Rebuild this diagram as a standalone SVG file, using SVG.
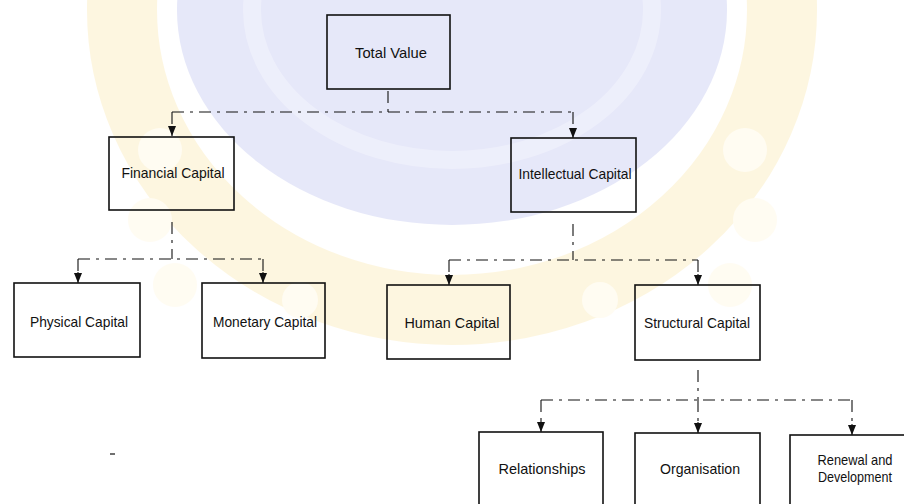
<svg xmlns="http://www.w3.org/2000/svg" width="904" height="504" viewBox="0 0 904 504">
<style>
.box{fill:none;stroke:#111;stroke-width:1.6}
.lbl{font-family:"Liberation Sans",Arial,sans-serif;font-size:15px;fill:#111;text-anchor:middle}
.con{fill:none;stroke:#111;stroke-width:1.1;stroke-dasharray:12 6 3 6}
.arr{fill:none;stroke:#111;stroke-width:1.1}
</style>
<defs>
<marker id="ah" markerUnits="userSpaceOnUse" markerWidth="10" markerHeight="8" refX="10" refY="4" orient="auto" viewBox="0 0 10 8">
<path d="M0,0 L10,4 L0,8 Z" fill="#111"/>
</marker>
</defs>
<rect width="904" height="504" fill="#fff"/>
<g id="watermark" opacity="0.3">
<ellipse cx="452" cy="10" rx="330" ry="300" fill="none" stroke="#fbe39a" stroke-width="70"/>
<ellipse cx="452" cy="10" rx="275" ry="215" fill="#aeb4ec"/>
<ellipse cx="452" cy="10" rx="200" ry="150" fill="none" stroke="#c7cbf3" stroke-width="18"/>
<g fill="#fff6d6">
<circle cx="160" cy="150" r="22"/><circle cx="150" cy="220" r="22"/><circle cx="175" cy="285" r="22"/>
<circle cx="745" cy="150" r="22"/><circle cx="755" cy="220" r="22"/><circle cx="730" cy="285" r="22"/>
<circle cx="300" cy="300" r="18"/><circle cx="600" cy="300" r="18"/>
</g>
</g>
<g id="connectors">
<path class="con" d="M388,91 V112 M172,112 H573"/>
<path class="con" d="M172,112 V127 M573,112 V129"/>
<line class="arr" x1="172" y1="126" x2="172" y2="136" marker-end="url(#ah)"/>
<line class="arr" x1="573" y1="128" x2="573" y2="138" marker-end="url(#ah)"/>
<path class="con" d="M172,222 V259 M78,259 H263 M78,259 V272 M263,259 V272"/>
<line class="arr" x1="78" y1="272" x2="78" y2="283" marker-end="url(#ah)"/>
<line class="arr" x1="263" y1="272" x2="263" y2="283" marker-end="url(#ah)"/>
<path class="con" d="M573,224 V260 M449,260 H698 M449,260 V274 M698,260 V274"/>
<line class="arr" x1="449" y1="274" x2="449" y2="285" marker-end="url(#ah)"/>
<line class="arr" x1="698" y1="274" x2="698" y2="285" marker-end="url(#ah)"/>
<path class="con" d="M698,370 V400 M541,400 H852 M541,400 V421 M698,400 V422 M852,400 V424"/>
<line class="arr" x1="541" y1="421" x2="541" y2="432" marker-end="url(#ah)"/>
<line class="arr" x1="698" y1="422" x2="698" y2="433" marker-end="url(#ah)"/>
<line class="arr" x1="852" y1="424" x2="852" y2="435" marker-end="url(#ah)"/>
</g>
<g id="total-value"><rect class="box" x="327" y="15" width="123" height="74"/><text class="lbl" x="391" y="58" textLength="72" lengthAdjust="spacingAndGlyphs">Total Value</text></g>
<g id="financial-capital"><rect class="box" x="109" y="137" width="125" height="73"/><text class="lbl" x="173" y="178" textLength="103" lengthAdjust="spacingAndGlyphs">Financial Capital</text></g>
<g id="intellectual-capital"><rect class="box" x="511" y="138" width="125" height="74"/><text class="lbl" x="575" y="179" textLength="113" lengthAdjust="spacingAndGlyphs">Intellectual Capital</text></g>
<g id="physical-capital"><rect class="box" x="14" y="283" width="126" height="74"/><text class="lbl" x="79" y="327" textLength="98" lengthAdjust="spacingAndGlyphs">Physical Capital</text></g>
<g id="monetary-capital"><rect class="box" x="202" y="283" width="123" height="75"/><text class="lbl" x="265" y="327" textLength="104" lengthAdjust="spacingAndGlyphs">Monetary Capital</text></g>
<g id="human-capital"><rect class="box" x="387" y="285" width="123" height="74"/><text class="lbl" x="452" y="328" textLength="95" lengthAdjust="spacingAndGlyphs">Human Capital</text></g>
<g id="structural-capital"><rect class="box" x="635" y="285" width="125" height="75"/><text class="lbl" x="697" y="328" textLength="106" lengthAdjust="spacingAndGlyphs">Structural Capital</text></g>
<g id="relationships"><rect class="box" x="479" y="432" width="124" height="80"/><text class="lbl" x="542" y="474" textLength="87" lengthAdjust="spacingAndGlyphs">Relationships</text></g>
<g id="organisation"><rect class="box" x="635" y="433" width="125" height="80"/><text class="lbl" x="700" y="474" textLength="80" lengthAdjust="spacingAndGlyphs">Organisation</text></g>
<g id="renewal-development"><rect class="box" x="790" y="435" width="125" height="80"/><text class="lbl" x="855" y="465" textLength="75" lengthAdjust="spacingAndGlyphs">Renewal and</text><text class="lbl" x="855" y="482" textLength="74" lengthAdjust="spacingAndGlyphs">Development</text></g>
<line x1="110" y1="454" x2="115" y2="454" stroke="#111" stroke-width="1.2"/>
</svg>
